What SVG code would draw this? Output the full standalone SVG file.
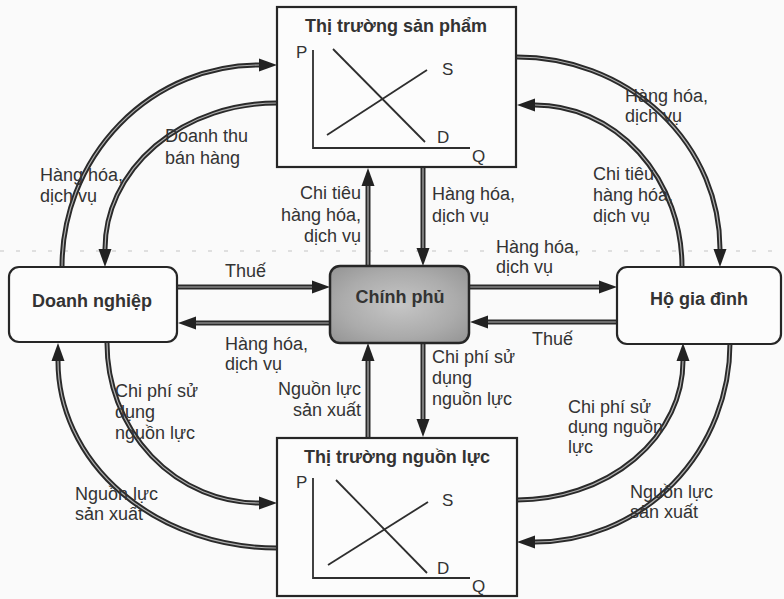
<svg xmlns="http://www.w3.org/2000/svg" width="784" height="599" viewBox="0 0 784 599">
<style>
.t{font-family:"Liberation Sans",Arial,sans-serif;font-size:18px;fill:#333}
.e{text-anchor:end}
.b{font-weight:bold;text-anchor:middle}
.ax{font-family:"Liberation Sans",Arial,sans-serif;font-size:17px;fill:#333}
.box{fill:#fcfcfc;stroke:#262626;stroke-width:2.2}
.c{fill:none;stroke:#2a2a2a;stroke-width:5;marker-end:url(#ah)}
.ci{fill:none;stroke:#b0b0b0;stroke-width:1.2}
.g{fill:none;stroke:#2e2e2e;stroke-width:1.8}
</style>
<defs>
<marker id="ah" viewBox="0 -7 18 14" markerWidth="18" markerHeight="14" refX="0" refY="0" orient="auto" markerUnits="userSpaceOnUse">
<path d="M0,-6.5 L18,0 L0,6.5 z" fill="#222"/>
</marker>
<radialGradient id="gov" cx="0.5" cy="0.5" r="0.7">
<stop offset="0" stop-color="#c6c6c6"/>
<stop offset="0.6" stop-color="#ababab"/>
<stop offset="1" stop-color="#939393"/>
</radialGradient>
</defs>
<rect width="784" height="599" fill="#fafafa"/>
<line x1="0" y1="251" x2="784" y2="251" stroke="#c4c4c4" stroke-width="1" stroke-dasharray="4 12"/>

<g id="connectors">
<path class="c" d="M62,267 A197,202 0 0 1 259,65"/>
<path class="ci" d="M62,267 A197,202 0 0 1 259,65"/>
<path class="c" d="M277,103 A172,146 0 0 0 105,249"/>
<path class="ci" d="M277,103 A172,146 0 0 0 105,249"/>
<path class="c" d="M517,57 A203,192 0 0 1 720,249"/>
<path class="ci" d="M517,57 A203,192 0 0 1 720,249"/>
<path class="c" d="M682,267 A147,162 0 0 0 535,105"/>
<path class="ci" d="M682,267 A147,162 0 0 0 535,105"/>
<path class="c" d="M277,548 A219,187 0 0 1 58,361"/>
<path class="ci" d="M277,548 A219,187 0 0 1 58,361"/>
<path class="c" d="M107,343 A152,160 0 0 0 259,503"/>
<path class="ci" d="M107,343 A152,160 0 0 0 259,503"/>
<path class="c" d="M517,500 A166,139 0 0 0 683,361"/>
<path class="ci" d="M517,500 A166,139 0 0 0 683,361"/>
<path class="c" d="M730,343 A195,199 0 0 1 535,542"/>
<path class="ci" d="M730,343 A195,199 0 0 1 535,542"/>
<path class="c" d="M178,287 H312"/><path class="ci" d="M178,287 H312"/>
<path class="c" d="M330,323 H196"/><path class="ci" d="M330,323 H196"/>
<path class="c" d="M470,287 H599"/><path class="ci" d="M470,287 H599"/>
<path class="c" d="M617,322 H488"/><path class="ci" d="M617,322 H488"/>
<path class="c" d="M368,266 V186"/><path class="ci" d="M368,266 V186"/>
<path class="c" d="M423,168 V248"/><path class="ci" d="M423,168 V248"/>
<path class="c" d="M368,437 V361"/><path class="ci" d="M368,437 V361"/>
<path class="c" d="M423,343 V419"/><path class="ci" d="M423,343 V419"/>
</g>

<g id="thi-truong-san-pham">
<rect class="box" x="277" y="7" width="239" height="160"/>
<text class="t b" x="396" y="32" font-size="17">Thị trường sản phẩm</text>
<path class="g" d="M313,50 V148 H470"/>
<path class="g" d="M333,49 L425,142"/>
<path class="g" d="M327,135 L427,70"/>
<text class="ax" x="296" y="58">P</text>
<text class="ax" x="442" y="75">S</text>
<text class="ax" x="437" y="143">D</text>
<text class="ax" x="472" y="162">Q</text>
</g>

<g id="thi-truong-nguon-luc">
<rect class="box" x="277" y="438" width="240" height="158"/>
<text class="t b" x="397" y="463" font-size="17">Thị trường nguồn lực</text>
<path class="g" d="M313,478 V578 H470"/>
<path class="g" d="M336,480 L427,573"/>
<path class="g" d="M328,565 L428,502"/>
<text class="ax" x="296" y="488">P</text>
<text class="ax" x="442" y="506">S</text>
<text class="ax" x="437" y="574">D</text>
<text class="ax" x="472" y="592">Q</text>
</g>

<g id="doanh-nghiep">
<rect class="box" x="9" y="267" width="168" height="75" rx="10"/>
<text class="t b" x="92" y="307">Doanh nghiệp</text>
</g>

<g id="chinh-phu">
<rect x="330" y="266" width="139" height="77" rx="10" fill="url(#gov)" stroke="#262626" stroke-width="2.5"/>
<text class="t b" x="400" y="303" font-size="17.5">Chính phủ</text>
</g>

<g id="ho-gia-dinh">
<rect class="box" x="617" y="267" width="164" height="77" rx="10"/>
<text class="t b" x="699" y="305">Hộ gia đình</text>
</g>

<g id="labels">
<text class="t" x="225" y="277">Thuế</text>
<text class="t" x="225" y="350">Hàng hóa,</text>
<text class="t" x="225" y="370">dịch vụ</text>
<text class="t" x="496" y="253">Hàng hóa,</text>
<text class="t" x="496" y="273">dịch vụ</text>
<text class="t" x="532" y="345">Thuế</text>
<text class="t e" x="361" y="199">Chi tiêu</text>
<text class="t e" x="361" y="221">hàng hóa,</text>
<text class="t e" x="361" y="242">dịch vụ</text>
<text class="t" x="432" y="200">Hàng hóa,</text>
<text class="t" x="432" y="222">dịch vụ</text>
<text class="t e" x="361" y="395">Nguồn lực</text>
<text class="t e" x="361" y="416">sản xuất</text>
<text class="t" x="432" y="363">Chi phí sử</text>
<text class="t" x="432" y="384">dụng</text>
<text class="t" x="432" y="405">nguồn lực</text>
<text class="t" x="165" y="142">Doanh thu</text>
<text class="t" x="165" y="164">bán hàng</text>
<text class="t" x="40" y="181">Hàng hóa,</text>
<text class="t" x="40" y="202">dịch vụ</text>
<text class="t" x="625" y="102">Hàng hóa,</text>
<text class="t" x="625" y="122">dịch vụ</text>
<text class="t" x="593" y="180">Chi tiêu</text>
<text class="t" x="593" y="201">hàng hóa,</text>
<text class="t" x="593" y="222">dịch vụ</text>
<text class="t" x="115" y="397">Chi phí sử</text>
<text class="t" x="115" y="418">dụng</text>
<text class="t" x="115" y="439">nguồn lực</text>
<text class="t" x="75" y="500">Nguồn lực</text>
<text class="t" x="75" y="520">sản xuất</text>
<text class="t" x="568" y="413">Chi phí sử</text>
<text class="t" x="568" y="433">dụng nguồn</text>
<text class="t" x="568" y="453">lực</text>
<text class="t" x="630" y="498">Nguồn lực</text>
<text class="t" x="630" y="518">sản xuất</text>
</g>
</svg>
